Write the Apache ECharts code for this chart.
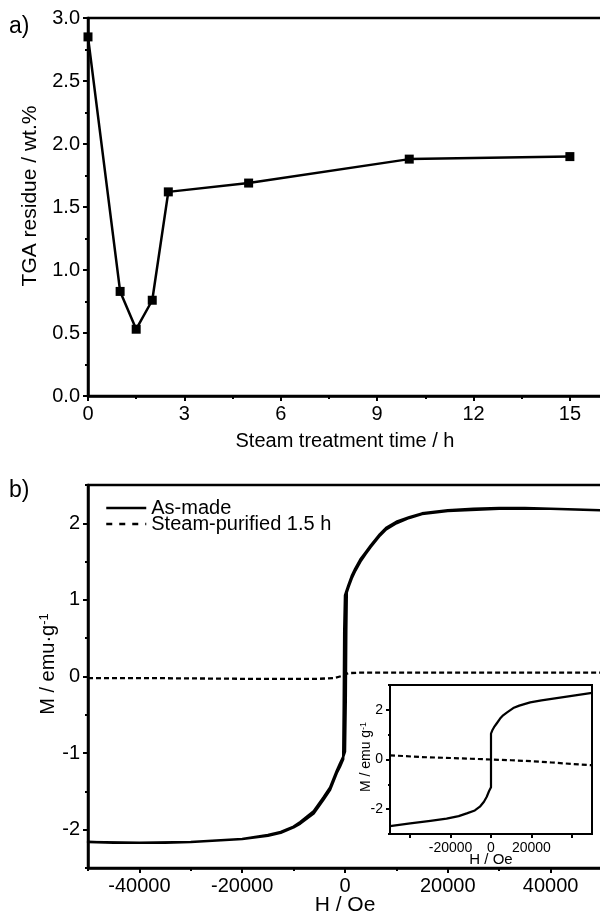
<!DOCTYPE html>
<html>
<head>
<meta charset="utf-8">
<script src="https://cdn.jsdelivr.net/npm/echarts@6/dist/echarts.min.js"></script>
<style>
  html, body { margin: 0; padding: 0; background: #fff; }
  #chart { width: 600px; height: 915px; }
</style>
</head>
<body>
<div id="chart"></div>
<script>
// ---- (a) TGA residue versus steam treatment time ----
const tgaTime = [0, 1, 1.5, 2, 2.5, 5, 10, 15];
const tgaResidue = [2.85, 0.83, 0.53, 0.76, 1.62, 1.69, 1.88, 1.90];
const tgaTimeTicks = [0, 3, 6, 9, 12, 15];
const tgaTimeMinorTicks = [1.5, 4.5, 7.5, 10.5, 13.5];
const tgaResidueTicks = [0, 0.5, 1, 1.5, 2, 2.5, 3];
const tgaResidueMinorTicks = [0.25, 0.75, 1.25, 1.75, 2.25, 2.75];

// ---- (b) magnetisation loops ----
// As-made, field sweep from +50 kOe down to -50 kOe
const asMadeDownH = [50000, 45000, 40000, 35000, 30000, 25000, 20000, 15000, 12500, 10000, 8000, 6800, 5000, 4000, 3000, 2000, 1300, 700, 300, 0, -150, -250, -350, -1000, -1600, -2900, -4200, -6100, -8700, -10000, -12500, -15000, -20000, -25000, -30000, -35000, -40000, -45000, -50000];
const asMadeDownM = [2.17, 2.18, 2.19, 2.20, 2.20, 2.19, 2.17, 2.13, 2.08, 2.02, 1.94, 1.86, 1.71, 1.62, 1.53, 1.41, 1.31, 1.20, 1.12, 1.06, 0.60, -0.40, -1.08, -1.18, -1.26, -1.48, -1.61, -1.79, -1.92, -1.97, -2.04, -2.08, -2.12, -2.14, -2.16, -2.17, -2.17, -2.17, -2.16];
// As-made, field sweep back from -50 kOe up to +50 kOe
const asMadeUpH = [-50000, -40000, -30000, -20000, -15000, -12500, -10000, -8700, -6100, -4200, -2900, -1600, -1000, -300, 0, 150, 250, 350, 700, 1300, 2000, 3000, 4000, 5000, 6800, 8000, 10000, 12500, 15000, 20000, 30000, 40000, 50000];
const asMadeUpM = [-2.16, -2.17, -2.16, -2.12, -2.07, -2.03, -1.96, -1.90, -1.76, -1.58, -1.45, -1.23, -1.14, -1.04, -0.98, -0.30, 0.60, 1.10, 1.17, 1.28, 1.38, 1.50, 1.60, 1.69, 1.84, 1.92, 2.00, 2.07, 2.12, 2.16, 2.19, 2.19, 2.17];
// Steam-purified 1.5 h
const steamH = [-50000, -40000, -30000, -20000, -10000, -5000, -2000, -1000, 0, 1000, 3000, 10000, 20000, 30000, 40000, 50000];
const steamM = [-0.02, -0.02, -0.025, -0.03, -0.03, -0.03, -0.02, 0.0, 0.03, 0.045, 0.05, 0.05, 0.05, 0.05, 0.05, 0.05];
const fieldTicks = [-40000, -20000, 0, 20000, 40000];
const fieldMinorTicks = [-50000, -30000, -10000, 10000, 30000, 50000];
const momentTicks = [-2, -1, 0, 1, 2];
const momentMinorTicks = [-2.5, -1.5, -0.5, 0.5, 1.5, 2.5];

// Inset curves
const insetSolidH = [-50000, -40000, -30000, -22000, -16000, -12000, -8000, -5500, -3500, -2100, -1000, 0, 0, 800, 1500, 2800, 4500, 6000, 7800, 11000, 14000, 19400, 25000, 30000, 40000, 50000];
const insetSolidM = [-2.68, -2.57, -2.47, -2.38, -2.28, -2.17, -2.05, -1.90, -1.70, -1.50, -1.28, -1.12, 1.04, 1.20, 1.30, 1.45, 1.65, 1.78, 1.89, 2.07, 2.17, 2.30, 2.38, 2.44, 2.56, 2.68];
const insetDashH = [-50000, -35000, -20000, -10000, 0, 10000, 20000, 30000, 40000, 50000];
const insetDashM = [0.17, 0.10, 0.06, 0.03, 0.0, -0.03, -0.07, -0.12, -0.18, -0.23];
const insetFieldTicks = [-40000, -20000, 0, 20000, 40000];
const insetFieldLabels = [-20000, 0, 20000];
const insetMomentTicks = [-2, 0, 2];
const insetMomentMinorTicks = [-3, -1, 1, 3];

const FONT = "'Liberation Sans', Arial, Helvetica, sans-serif";
const INK = '#000';

const pairs = (xs, ys) => xs.map((x, i) => [x, ys[i]]);

// One visible axis (line, major ticks, labels) per side
function majorAxis(gridIndex, pos, min, max, ticks, labels, fmt, fontSize, tickLen, lineW) {
  return {
    gridIndex, type: 'value', position: pos, min, max,
    axisLine: { show: true, onZero: false, lineStyle: { color: INK, width: lineW } },
    axisTick: { show: true, inside: false, customValues: ticks, length: tickLen, lineStyle: { color: INK, width: 2 } },
    axisLabel: { show: true, customValues: labels, formatter: fmt, color: INK, fontSize, fontFamily: FONT, margin: tickLen + 3 },
    splitLine: { show: false }
  };
}
// Companion axis that only carries the short minor ticks
function minorAxis(gridIndex, pos, min, max, ticks, tickLen) {
  return {
    gridIndex, type: 'value', position: pos, min, max,
    axisLine: { show: false, onZero: false },
    axisTick: { show: true, inside: false, customValues: ticks, length: tickLen, lineStyle: { color: INK, width: 2 } },
    axisLabel: { show: false },
    splitLine: { show: false }
  };
}

const plain = v => String(v);
const oneDecimal = v => v.toFixed(1);

const chart = echarts.init(document.getElementById('chart'), null, { renderer: 'canvas' });

const gridBase = { show: true, borderColor: INK, backgroundColor: '#fff', containLabel: false, outerBoundsMode: 'none' };

chart.setOption({
  animation: false,
  backgroundColor: '#fff',
  grid: [
    Object.assign({ left: 88, top: 18, width: 514, height: 378, borderWidth: 2.5 }, gridBase),
    Object.assign({ left: 88, top: 485, width: 514, height: 383, borderWidth: 2.5 }, gridBase),
    Object.assign({ left: 390, top: 685, width: 202, height: 149, borderWidth: 2 }, gridBase)
  ],
  xAxis: [
    majorAxis(0, 'bottom', 0, 16, tgaTimeTicks, tgaTimeTicks, plain, 20, 5, 2.5),
    minorAxis(0, 'bottom', 0, 16, tgaTimeMinorTicks, 3),
    majorAxis(1, 'bottom', -50000, 50000, fieldTicks, fieldTicks, plain, 20, 5, 2.5),
    minorAxis(1, 'bottom', -50000, 50000, fieldMinorTicks, 3),
    majorAxis(2, 'bottom', -50000, 50000, insetFieldTicks, insetFieldLabels, plain, 14, 4, 2)
  ],
  yAxis: [
    majorAxis(0, 'left', 0, 3, tgaResidueTicks, tgaResidueTicks, oneDecimal, 20, 5, 2.5),
    minorAxis(0, 'left', 0, 3, tgaResidueMinorTicks, 3),
    majorAxis(1, 'left', -2.5, 2.5, momentTicks, momentTicks, plain, 20, 5, 2.5),
    minorAxis(1, 'left', -2.5, 2.5, momentMinorTicks, 3),
    majorAxis(2, 'left', -3, 3, insetMomentTicks, insetMomentTicks, plain, 14, 4, 2),
    minorAxis(2, 'left', -3, 3, insetMomentMinorTicks, 2)
  ],
  legend: {
    show: true,
    left: 100,
    top: 493,
    orient: 'vertical',
    itemWidth: 40,
    itemHeight: 14,
    itemGap: -4,
    selectedMode: false,
    itemStyle: { opacity: 0 },
    textStyle: { color: INK, fontSize: 20, fontFamily: FONT },
    data: [
      { name: 'As-made', lineStyle: { width: 2.5, color: INK } },
      { name: 'Steam-purified 1.5 h', lineStyle: { type: [6, 7], width: 2.5, color: INK } }
    ]
  },
  series: [
    {
      name: 'TGA residue', type: 'line', xAxisIndex: 0, yAxisIndex: 0,
      data: pairs(tgaTime, tgaResidue),
      symbol: 'rect', symbolSize: 9,
      itemStyle: { color: INK },
      lineStyle: { color: INK, width: 2.5 },
      clip: false
    },
    {
      name: 'As-made', type: 'line', xAxisIndex: 2, yAxisIndex: 2,
      data: pairs(asMadeDownH, asMadeDownM).concat(pairs(asMadeUpH, asMadeUpM)),
      symbol: 'none', showSymbol: false,
      itemStyle: { color: INK },
      lineStyle: { color: INK, width: 2.5, join: 'round' }
    },
    {
      name: 'Steam-purified 1.5 h', type: 'line', xAxisIndex: 2, yAxisIndex: 2,
      data: pairs(steamH, steamM),
      symbol: 'none', showSymbol: false,
      itemStyle: { color: INK },
      lineStyle: { color: INK, width: 2.3, type: [5, 3] }
    },
    {
      name: 'As-made (detail)', type: 'line', xAxisIndex: 4, yAxisIndex: 4,
      data: pairs(insetSolidH, insetSolidM),
      symbol: 'none', showSymbol: false,
      itemStyle: { color: INK },
      lineStyle: { color: INK, width: 2.2, join: 'round' }
    },
    {
      name: 'Steam-purified (detail)', type: 'line', xAxisIndex: 4, yAxisIndex: 4,
      data: pairs(insetDashH, insetDashM),
      symbol: 'none', showSymbol: false,
      itemStyle: { color: INK },
      lineStyle: { color: INK, width: 2.2, type: [5, 3] }
    }
  ],
  graphic: [
    { type: 'text', x: 9, y: 27, style: { text: 'a)', fill: INK, fontSize: 23, fontFamily: FONT, align: 'left', verticalAlign: 'middle' } },
    { type: 'text', x: 9, y: 491, style: { text: 'b)', fill: INK, fontSize: 23, fontFamily: FONT, align: 'left', verticalAlign: 'middle' } },
    { type: 'text', x: 345, y: 441, style: { text: 'Steam treatment time / h', fill: INK, fontSize: 20, fontFamily: FONT, align: 'center', verticalAlign: 'middle' } },
    { type: 'text', x: 30, y: 196, rotation: Math.PI / 2, style: { text: 'TGA residue / wt.%', fill: INK, fontSize: 21, fontFamily: FONT, align: 'center', verticalAlign: 'middle' } },
    { type: 'text', x: 345, y: 905, style: { text: 'H / Oe', fill: INK, fontSize: 21, fontFamily: FONT, align: 'center', verticalAlign: 'middle' } },
    {
      type: 'text', x: 48, y: 664, rotation: Math.PI / 2,
      style: {
        text: '{m|M / emu·g}{s|-1}', fill: INK, align: 'center', verticalAlign: 'middle',
        rich: {
          m: { fontSize: 20, fontFamily: FONT, fill: INK, verticalAlign: 'bottom' },
          s: { fontSize: 13, fontFamily: FONT, fill: INK, verticalAlign: 'top' }
        }
      }
    },
    { type: 'text', x: 491, y: 860, style: { text: 'H / Oe', fill: INK, fontSize: 15, fontFamily: FONT, align: 'center', verticalAlign: 'middle' } },
    {
      type: 'text', x: 366, y: 757, rotation: Math.PI / 2,
      style: {
        text: '{m|M / emu g}{s|-1}', fill: INK, align: 'center', verticalAlign: 'middle',
        rich: {
          m: { fontSize: 14, fontFamily: FONT, fill: INK, verticalAlign: 'bottom' },
          s: { fontSize: 9, fontFamily: FONT, fill: INK, verticalAlign: 'top' }
        }
      }
    }
  ]
});
</script>
</body>
</html>
